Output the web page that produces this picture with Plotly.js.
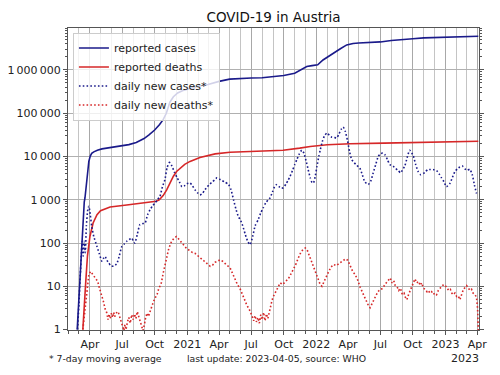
<!DOCTYPE html>
<html>
<head>
<meta charset="utf-8">
<script src="https://cdn.plot.ly/plotly-3.0.1.min.js"></script>
<style>html,body{margin:0;padding:0;background:#fff;}#chart{width:500px;height:375px;}</style>
</head>
<body>
<div id="chart"></div>
<script>
// ---- data ----
const casesDates = ["2020-02-25","2020-02-28","2020-03-02","2020-03-05","2020-03-08","2020-03-11","2020-03-14","2020-03-16","2020-03-18","2020-03-20","2020-03-23","2020-03-26","2020-03-29","2020-04-02","2020-04-06","2020-04-12","2020-04-22","2020-05-05","2020-06-01","2020-07-01","2020-07-20","2020-08-10","2020-09-01","2020-09-15","2020-10-01","2020-10-15","2020-10-25","2020-11-03","2020-11-13","2020-11-23","2020-12-05","2020-12-20","2021-01-05","2021-02-01","2021-03-01","2021-04-01","2021-05-01","2021-06-01","2021-07-01","2021-08-01","2021-09-01","2021-10-01","2021-11-01","2021-11-20","2021-12-05","2021-12-20","2022-01-05","2022-01-20","2022-02-05","2022-02-20","2022-03-10","2022-03-28","2022-04-15","2022-05-01","2022-06-01","2022-07-01","2022-08-01","2022-09-01","2022-10-01","2022-11-01","2022-12-01","2023-01-01","2023-02-01","2023-03-01","2023-04-04"];
const casesTotal = [1,3,10,30,80,200,550,900,1100,1600,3500,5800,7800,10200,11800,12800,14000,15000,16200,17300,18800,21000,26000,31500,41000,55000,71000,100000,180000,240000,295000,335000,370000,420000,460000,545000,615000,645000,652000,662000,695000,745000,840000,1050000,1200000,1260000,1320000,1700000,2100000,2500000,3100000,3800000,4100000,4200000,4270000,4450000,4800000,4950000,5250000,5520000,5640000,5750000,5820000,5920000,6000000];

const deathsDates = ["2020-03-12","2020-03-15","2020-03-20","2020-03-25","2020-04-01","2020-04-10","2020-04-21","2020-05-01","2020-05-28","2020-07-14","2020-08-30","2020-10-05","2020-10-14","2020-10-25","2020-11-04","2020-11-13","2020-11-23","2020-12-02","2020-12-12","2020-12-25","2021-01-09","2021-02-06","2021-03-21","2021-05-02","2021-06-28","2021-09-29","2021-11-15","2021-12-15","2022-02-01","2022-04-07","2022-07-11","2022-10-13","2023-01-15","2023-04-04"];
const deathsTotal = [1,3,12,50,142,290,450,560,680,760,850,920,1000,1250,1700,2500,3500,4500,5300,6600,7700,9500,11500,12500,13000,14000,15600,17000,18700,19700,20400,21000,21900,22600];

const newCasesDates = ["2020-02-26","2020-03-01","2020-03-05","2020-03-08","2020-03-10","2020-03-13","2020-03-16","2020-03-19","2020-03-22","2020-03-26","2020-03-29","2020-04-02","2020-04-06","2020-04-12","2020-04-21","2020-04-28","2020-05-05","2020-05-10","2020-05-14","2020-05-19","2020-05-24","2020-05-30","2020-06-07","2020-06-12","2020-06-16","2020-06-23","2020-06-30","2020-07-07","2020-07-14","2020-07-21","2020-07-28","2020-08-02","2020-08-06","2020-08-13","2020-08-20","2020-08-27","2020-09-04","2020-09-11","2020-09-18","2020-09-25","2020-10-02","2020-10-09","2020-10-16","2020-10-23","2020-10-30","2020-11-05","2020-11-12","2020-11-19","2020-11-26","2020-12-03","2020-12-10","2020-12-17","2020-12-24","2020-12-31","2021-01-09","2021-01-16","2021-01-23","2021-01-30","2021-02-06","2021-02-13","2021-02-20","2021-02-27","2021-03-06","2021-03-13","2021-03-20","2021-03-26","2021-04-02","2021-04-09","2021-04-16","2021-04-28","2021-05-05","2021-05-12","2021-05-19","2021-05-26","2021-05-31","2021-06-07","2021-06-14","2021-06-21","2021-06-28","2021-07-05","2021-07-12","2021-07-21","2021-07-28","2021-08-04","2021-08-11","2021-08-18","2021-08-23","2021-08-30","2021-09-05","2021-09-11","2021-09-18","2021-09-24","2021-09-30","2021-10-07","2021-10-13","2021-10-19","2021-10-26","2021-11-01","2021-11-07","2021-11-14","2021-11-21","2021-11-27","2021-12-03","2021-12-09","2021-12-15","2021-12-20","2021-12-24","2021-12-29","2022-01-03","2022-01-08","2022-01-12","2022-01-18","2022-01-24","2022-01-31","2022-02-07","2022-02-14","2022-02-21","2022-02-28","2022-03-06","2022-03-12","2022-03-18","2022-03-24","2022-03-30","2022-04-05","2022-04-11","2022-04-18","2022-04-25","2022-05-04","2022-05-11","2022-05-18","2022-05-28","2022-06-04","2022-06-11","2022-06-18","2022-06-25","2022-07-01","2022-07-08","2022-07-14","2022-07-21","2022-07-28","2022-08-06","2022-08-13","2022-08-20","2022-08-27","2022-09-08","2022-09-15","2022-09-22","2022-10-02","2022-10-09","2022-10-16","2022-10-23","2022-11-04","2022-11-12","2022-11-20","2022-11-27","2022-12-07","2022-12-14","2022-12-21","2022-12-28","2023-01-04","2023-01-14","2023-01-21","2023-01-28","2023-02-04","2023-02-11","2023-02-18","2023-02-25","2023-03-04","2023-03-11","2023-03-18","2023-03-24","2023-03-30","2023-04-04"];
const newCases = [1,4,20,60,110,50,110,60,250,600,710,450,245,140,83,55,38,45,49,40,35,30,29,31,33,50,83,95,110,120,130,110,100,160,265,280,290,450,590,720,840,1000,1200,2000,2900,5500,7300,6000,4300,3300,2600,2000,2100,2350,2450,2100,1700,1450,1300,1400,1700,2000,2300,2600,2900,3200,3000,2800,2600,2250,1700,1000,600,400,350,250,160,110,92,140,250,350,500,650,850,1000,1100,1500,2000,2250,2000,1850,1900,2300,2800,3500,4800,6500,8500,11500,14000,12000,8000,5000,3200,2500,2450,3500,6000,10000,14000,22000,30000,35000,31000,28000,27500,27000,33000,42000,48000,38000,24000,13000,8500,7200,6300,5400,3800,2600,2250,2700,4200,6500,10000,11500,12000,11000,8500,6500,6000,5300,4800,4200,6000,9500,14000,10500,6500,4500,3800,4300,5000,5000,5000,4700,4000,3200,2600,2000,2400,3300,4500,5200,5700,6000,5200,4800,5100,3800,2200,1400];

const newDeathsDates = ["2020-03-12","2020-03-18","2020-03-24","2020-03-29","2020-04-03","2020-04-07","2020-04-12","2020-04-18","2020-04-23","2020-04-28","2020-05-04","2020-05-09","2020-05-14","2020-05-19","2020-05-22","2020-05-25","2020-05-28","2020-06-01","2020-06-04","2020-06-07","2020-06-10","2020-06-13","2020-06-17","2020-06-21","2020-06-25","2020-06-29","2020-07-03","2020-07-06","2020-07-09","2020-07-12","2020-07-16","2020-07-20","2020-07-24","2020-07-28","2020-08-01","2020-08-05","2020-08-09","2020-08-13","2020-08-17","2020-08-21","2020-08-25","2020-08-29","2020-09-02","2020-09-06","2020-09-10","2020-09-14","2020-09-18","2020-09-23","2020-09-28","2020-10-03","2020-10-08","2020-10-12","2020-10-16","2020-10-20","2020-10-25","2020-10-30","2020-11-04","2020-11-10","2020-11-18","2020-11-25","2020-12-02","2020-12-09","2020-12-16","2020-12-23","2020-12-30","2021-01-09","2021-01-16","2021-01-23","2021-01-30","2021-02-06","2021-02-13","2021-02-20","2021-02-27","2021-03-07","2021-03-14","2021-03-21","2021-03-28","2021-04-04","2021-04-11","2021-04-18","2021-04-25","2021-05-02","2021-05-09","2021-05-16","2021-05-23","2021-05-30","2021-06-06","2021-06-12","2021-06-19","2021-06-25","2021-06-30","2021-07-04","2021-07-08","2021-07-12","2021-07-16","2021-07-20","2021-07-24","2021-07-28","2021-08-01","2021-08-05","2021-08-09","2021-08-13","2021-08-17","2021-08-21","2021-08-25","2021-08-29","2021-09-02","2021-09-08","2021-09-14","2021-09-21","2021-09-28","2021-10-05","2021-10-14","2021-10-21","2021-10-28","2021-11-04","2021-11-11","2021-11-18","2021-11-25","2021-12-01","2021-12-06","2021-12-11","2021-12-17","2021-12-24","2021-12-31","2022-01-07","2022-01-12","2022-01-17","2022-01-23","2022-01-29","2022-02-05","2022-02-12","2022-02-19","2022-02-26","2022-03-05","2022-03-12","2022-03-19","2022-03-25","2022-03-31","2022-04-07","2022-04-14","2022-04-21","2022-04-28","2022-05-05","2022-05-12","2022-05-19","2022-05-24","2022-05-29","2022-06-02","2022-06-06","2022-06-12","2022-06-18","2022-06-24","2022-07-01","2022-07-08","2022-07-14","2022-07-21","2022-07-29","2022-08-03","2022-08-08","2022-08-12","2022-08-17","2022-08-22","2022-08-27","2022-09-01","2022-09-06","2022-09-10","2022-09-14","2022-09-19","2022-09-25","2022-10-01","2022-10-07","2022-10-12","2022-10-17","2022-10-22","2022-10-26","2022-10-31","2022-11-05","2022-11-10","2022-11-14","2022-11-18","2022-11-23","2022-11-28","2022-12-02","2022-12-07","2022-12-12","2022-12-17","2022-12-22","2022-12-27","2022-12-31","2023-01-05","2023-01-10","2023-01-15","2023-01-19","2023-01-23","2023-01-28","2023-02-02","2023-02-06","2023-02-11","2023-02-16","2023-02-21","2023-02-26","2023-03-02","2023-03-07","2023-03-12","2023-03-16","2023-03-20","2023-03-26","2023-03-30","2023-04-02","2023-04-04"];
const newDeaths = [1,3,10,19,22,20,17,15.5,13,9,6.5,4.5,3,2.4,1.7,2.3,1.8,2.4,1.9,2.5,2.0,2.3,2.6,2.4,1.8,1.4,1.1,0.95,1.3,1.0,1.5,1.9,1.4,2.2,1.7,2.3,1.8,2.6,2.0,1.5,1.1,0.95,1.3,2.0,2.4,2.0,2.6,3.5,4.5,5.5,6.5,8.5,10,12,20,32,49,75,110,130,142,120,100,85,75,66,60,58,52,45,42,38,33,29,31,36,38,41,38,33,30,27,20,14,11,9,6.5,4.5,3.6,3.0,2.5,2.0,1.6,2.1,1.5,1.9,1.4,2.2,1.7,2.5,1.6,2.3,1.8,2.6,3.5,4.8,5.9,7.5,9.5,12,11,12.5,15,19,24,32,45,60,72,77,70,55,40,29,20,14,11,10,13,17,22,28,32,30,33,36,38,43,40,30,22,18.6,14,9.5,7,5.4,4.0,3.5,3.2,3.8,4.8,6,7.5,8.4,9,11,13,15.6,12,13.5,10.5,10,8,9,6.5,7,5.5,4.9,6.5,8.5,12,14.8,12,13,10.5,12,9,8.5,7.5,8,7,7.5,6.5,7,6.4,8,9,10,11,10.4,9.5,8,8.5,7,6.4,7,5.8,6,4.9,6.5,8.5,9.5,10.4,9,8,8.5,7,6.4,5.5,3,0.95];

const yTickVals = [1,10,100,1000,10000,100000,1000000];
const yTickText = ["1","10","100","1\u2009000","10\u2009000","100\u2009000","1\u2009000\u2009000"];
const xTickVals = ["2020-04-01","2020-07-01","2020-10-01","2021-01-01","2021-04-01","2021-07-01","2021-10-01","2022-01-01","2022-04-01","2022-07-01","2022-10-01","2023-01-01","2023-04-01"];
const xTickText = ["Apr","Jul","Oct","2021","Apr","Jul","Oct","2022","Apr","Jul","Oct","2023","Apr"];

const seriesNames = ["reported cases","reported deaths","daily new cases*","daily new deaths*"];
const blue = "#1a1a8a", red = "#d62728";
const FONT = "DejaVu Sans, Liberation Sans, sans-serif";

const traces = [
  {x: casesDates, y: casesTotal, name: seriesNames[0], mode: "lines", line: {color: blue, width: 1.6}},
  {x: deathsDates, y: deathsTotal, name: seriesNames[1], mode: "lines", line: {color: red, width: 1.6}},
  {x: newCasesDates, y: newCases, name: seriesNames[2], mode: "lines", line: {color: blue, width: 1.6, dash: "1.6px,2.2px", shape: "spline", smoothing: 0.5}},
  {x: newDeathsDates, y: newDeaths, name: seriesNames[3], mode: "lines", line: {color: red, width: 1.6, dash: "1.6px,2.2px"}}
];

const layout = {
  width: 500, height: 375,
  margin: {l: 68, r: 21, t: 28, b: 45, pad: 0},
  paper_bgcolor: "#fff", plot_bgcolor: "#fff",
  font: {family: FONT, size: 11, color: "#222"},
  title: {text: "COVID-19 in Austria", font: {family: FONT, size: 13.5, color: "#111"}, xref: "paper", x: 0.5, xanchor: "center", yref: "container", y: 0.955, yanchor: "middle"},
  showlegend: true,
  legend: {x: 0.012, y: 0.985, xanchor: "left", yanchor: "top", bgcolor: "rgba(255,255,255,0.8)", bordercolor: "#cccccc", borderwidth: 1, font: {family: FONT, size: 11, color: "#222"}, tracegroupgap: 0, itemwidth: 30},
  xaxis: {
    type: "date", range: ["2020-01-30", "2023-04-06"],
    tickmode: "array", tickvals: xTickVals, ticktext: xTickText,
    ticks: "outside", ticklen: 4, tickcolor: "#555", tickwidth: 1,
    showgrid: true, gridcolor: "#a8a8a8", gridwidth: 1,
    minor: {dtick: "M1", tick0: "2020-01-01", ticks: "outside", ticklen: 3, tickcolor: "#555", showgrid: true, gridcolor: "#c4c4c4", gridwidth: 1},
    showline: true, linecolor: "#555", linewidth: 1, mirror: true,
    zeroline: false, tickangle: 0,
    tickfont: {family: FONT, size: 11, color: "#222"}
  },
  yaxis: {
    type: "log", range: [-0.01, 6.97],
    tickmode: "array", tickvals: yTickVals, ticktext: yTickText,
    ticks: "outside", ticklen: 4, tickcolor: "#555",
    minor: {dtick: "D1", ticks: "outside", ticklen: 2, tickcolor: "#555", showgrid: false},
    showgrid: true, gridcolor: "#b0b0b0", gridwidth: 1,
    showline: true, linecolor: "#555", linewidth: 1, mirror: "ticks",
    zeroline: false,
    tickfont: {family: FONT, size: 11, color: "#222"}
  },
  annotations: [
    {text: "* 7-day moving average", xref: "paper", yref: "paper", x: -0.051, y: -0.093, xanchor: "left", yanchor: "middle", showarrow: false, font: {family: FONT, size: 9.3, color: "#222"}},
    {text: "last update: 2023-04-05, source: WHO", xref: "paper", yref: "paper", x: 0.285, y: -0.093, xanchor: "left", yanchor: "middle", showarrow: false, font: {family: FONT, size: 9.3, color: "#222"}},
    {text: "2023", xref: "paper", yref: "paper", x: 1.004, y: -0.096, xanchor: "right", yanchor: "middle", showarrow: false, font: {family: FONT, size: 11, color: "#222"}}
  ]
};

Plotly.newPlot("chart", traces, layout, {staticPlot: true, displayModeBar: false});
</script>
</body>
</html>
